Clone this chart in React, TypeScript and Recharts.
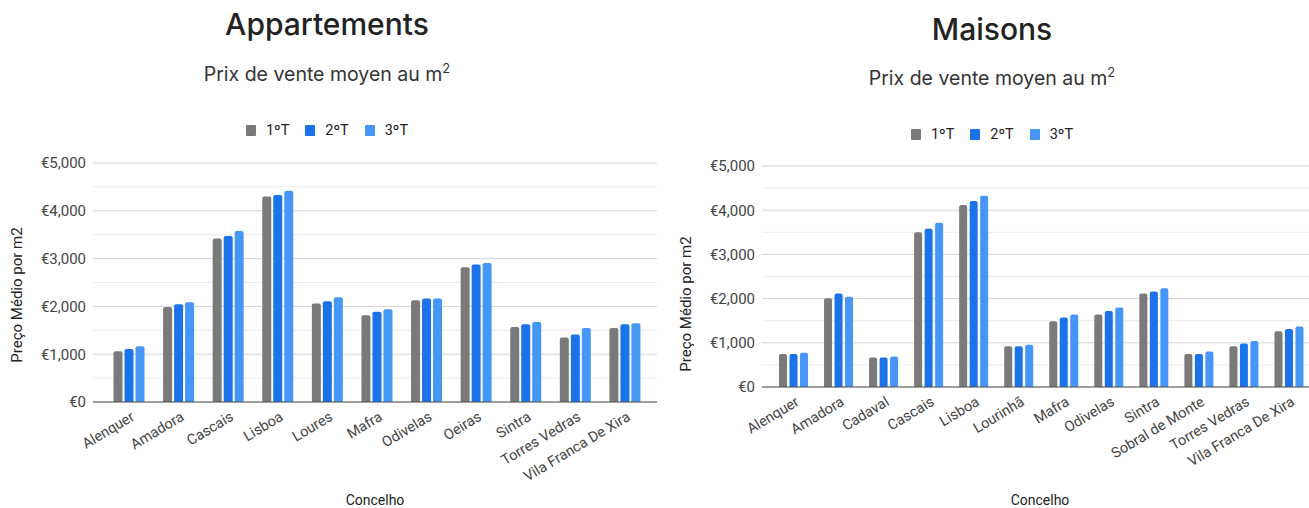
import React from 'react';
import { BarChart, Bar, XAxis, YAxis, CartesianGrid } from 'recharts';

const seriesNames = ['1ºT', '2ºT', '3ºT'];
const seriesColors = ['#7a7a7a', '#1a73e8', '#4696f7'];

const aptCategories = ['Alenquer', 'Amadora', 'Cascais', 'Lisboa', 'Loures', 'Mafra', 'Odivelas', 'Oeiras', 'Sintra', 'Torres Vedras', 'Vila Franca De Xira'];
const aptT1 = [1060, 1990, 3420, 4300, 2060, 1815, 2130, 2820, 1570, 1350, 1550];
const aptT2 = [1110, 2045, 3475, 4330, 2110, 1890, 2165, 2875, 1625, 1410, 1625];
const aptT3 = [1165, 2085, 3580, 4420, 2190, 1940, 2165, 2910, 1675, 1550, 1650];

const houseCategories = ['Alenquer', 'Amadora', 'Cadaval', 'Cascais', 'Lisboa', 'Lourinhã', 'Mafra', 'Odivelas', 'Sintra', 'Sobral de Monte', 'Torres Vedras', 'Vila Franca De Xira'];
const houseT1 = [745, 2010, 665, 3500, 4120, 920, 1490, 1640, 2115, 745, 920, 1260];
const houseT2 = [745, 2115, 665, 3580, 4210, 920, 1570, 1720, 2160, 745, 985, 1315];
const houseT3 = [775, 2040, 690, 3715, 4325, 955, 1640, 1800, 2235, 805, 1040, 1370];

const yTicks = [0, 1000, 2000, 3000, 4000, 5000];
const yMinorTicks = [500, 1500, 2500, 3500, 4500];

const aptData = aptCategories.map((name, i) => ({ name, t1: aptT1[i], t2: aptT2[i], t3: aptT3[i] }));
const houseData = houseCategories.map((name, i) => ({ name, t1: houseT1[i], t2: houseT2[i], t3: houseT3[i] }));

const tickFont = 'Roboto, "Liberation Sans", Arial, sans-serif';
const titleFont = 'Inter, "Noto Sans", sans-serif';

const fmtEuro = (v: number) => '€' + v.toLocaleString('en-US');

const RotTick = (props: any) => {
  const { x, y, payload } = props;
  return (
    <g transform={`translate(${x + 5},${y + 6})`}>
      <text textAnchor="end" transform="rotate(-31)" fontSize={14.5} fill="#444" fontFamily={tickFont} dy={4}>
        {payload.value}
      </text>
    </g>
  );
};

const LegendRow = ({ left, top, width }: { left: number; top: number; width: number }) => (
  <div style={{ position: 'absolute', left, top, width, display: 'flex', justifyContent: 'center', alignItems: 'center', fontFamily: tickFont, fontSize: 14.5, color: '#222' }}>
    {seriesNames.map((n, i) => (
      <div key={n} style={{ display: 'flex', alignItems: 'center', marginRight: i < 2 ? 16 : 0 }}>
        <div style={{ width: 10, height: 11, background: seriesColors[i], borderRadius: 1, marginRight: 10 }} />
        <span>{n}</span>
      </div>
    ))}
  </div>
);

const Title = ({ cx, top, text }: { cx: number; top: number; text: string }) => (
  <div style={{ position: 'absolute', left: cx - 200, top, width: 400, textAlign: 'center', fontFamily: titleFont, fontWeight: 500, fontSize: 30, color: '#222', lineHeight: '34px' }}>
    {text}
  </div>
);

const Subtitle = ({ cx, top }: { cx: number; top: number }) => (
  <div style={{ position: 'absolute', left: cx - 200, top, width: 400, textAlign: 'center', fontFamily: titleFont, fontSize: 19.5, color: '#333', lineHeight: '22px' }}>
    Prix de vente moyen au m<sup style={{ fontSize: 13 }}>2</sup>
  </div>
);

const VLabel = ({ cx, cy, text }: { cx: number; cy: number; text: string }) => (
  <div style={{ position: 'absolute', left: cx, top: cy, transform: 'translate(-50%,-50%) rotate(-90deg)', whiteSpace: 'nowrap', fontFamily: tickFont, fontSize: 15, color: '#222' }}>
    {text}
  </div>
);

const HLabel = ({ cx, top, text }: { cx: number; top: number; text: string }) => (
  <div style={{ position: 'absolute', left: cx - 100, top, width: 200, textAlign: 'center', fontFamily: tickFont, fontSize: 14, color: '#222' }}>
    {text}
  </div>
);

export default function App() {
  return (
    <div style={{ position: 'absolute', left: 0, top: 0, width: 1309, height: 508, overflow: 'hidden', background: '#fff' }}>
      <Title cx={327} top={7} text="Appartements" />
      <Subtitle cx={327} top={57} />
      <LegendRow left={127} top={122} width={400} />
      <VLabel cx={17} cy={295} text="Preço Médio por m2" />
      <HLabel cx={375} top={492} text="Concelho" />

      <Title cx={992} top={12} text="Maisons" />
      <Subtitle cx={992} top={61} />
      <LegendRow left={792} top={126} width={400} />
      <VLabel cx={686} cy={304} text="Preço Médio por m2" />
      <HLabel cx={1040} top={492} text="Concelho" />

      <div style={{ position: 'absolute', left: 0, top: 0 }}>
        <BarChart width={660} height={508} data={aptData} margin={{ top: 163, right: 3, left: 0, bottom: 0 }} barCategoryGap={10} barGap={2}>
          <CartesianGrid vertical={false} horizontalValues={yMinorTicks} stroke="#ececec" />
          <CartesianGrid vertical={false} stroke="#d4d4d4" />
          <XAxis dataKey="name" height={106} interval={0} tickLine={false} axisLine={{ stroke: '#555' }} tick={<RotTick />} padding={{ left: 10.5, right: 8 }} />
          <YAxis width={93} domain={[0, 5000]} ticks={yTicks} tickFormatter={fmtEuro} axisLine={false} tickLine={false} tickMargin={1} tick={{ fontSize: 15, fill: '#444', fontFamily: tickFont }} />
          <Bar dataKey="t1" name={seriesNames[0]} fill={seriesColors[0]} radius={[2, 2, 0, 0]} isAnimationActive={false} />
          <Bar dataKey="t2" name={seriesNames[1]} fill={seriesColors[1]} radius={[2, 2, 0, 0]} isAnimationActive={false} />
          <Bar dataKey="t3" name={seriesNames[2]} fill={seriesColors[2]} radius={[2, 2, 0, 0]} isAnimationActive={false} />
        </BarChart>
      </div>

      <div style={{ position: 'absolute', left: 662, top: 0 }}>
        <BarChart width={650} height={508} data={houseData} margin={{ top: 166, right: 1, left: 0, bottom: 0 }} barCategoryGap={8.5} barGap={2.5}>
          <CartesianGrid vertical={false} horizontalValues={yMinorTicks} stroke="#ececec" />
          <CartesianGrid vertical={false} stroke="#d4d4d4" />
          <XAxis dataKey="name" height={121} interval={0} tickLine={false} axisLine={{ stroke: '#555' }} tick={<RotTick />} padding={{ left: 8.5, right: 0 }} />
          <YAxis width={100} domain={[0, 5000]} ticks={yTicks} tickFormatter={fmtEuro} axisLine={false} tickLine={false} tickMargin={1} tick={{ fontSize: 15, fill: '#444', fontFamily: tickFont }} />
          <Bar dataKey="t1" name={seriesNames[0]} fill={seriesColors[0]} radius={[2, 2, 0, 0]} isAnimationActive={false} />
          <Bar dataKey="t2" name={seriesNames[1]} fill={seriesColors[1]} radius={[2, 2, 0, 0]} isAnimationActive={false} />
          <Bar dataKey="t3" name={seriesNames[2]} fill={seriesColors[2]} radius={[2, 2, 0, 0]} isAnimationActive={false} />
        </BarChart>
      </div>
    </div>
  );
}
